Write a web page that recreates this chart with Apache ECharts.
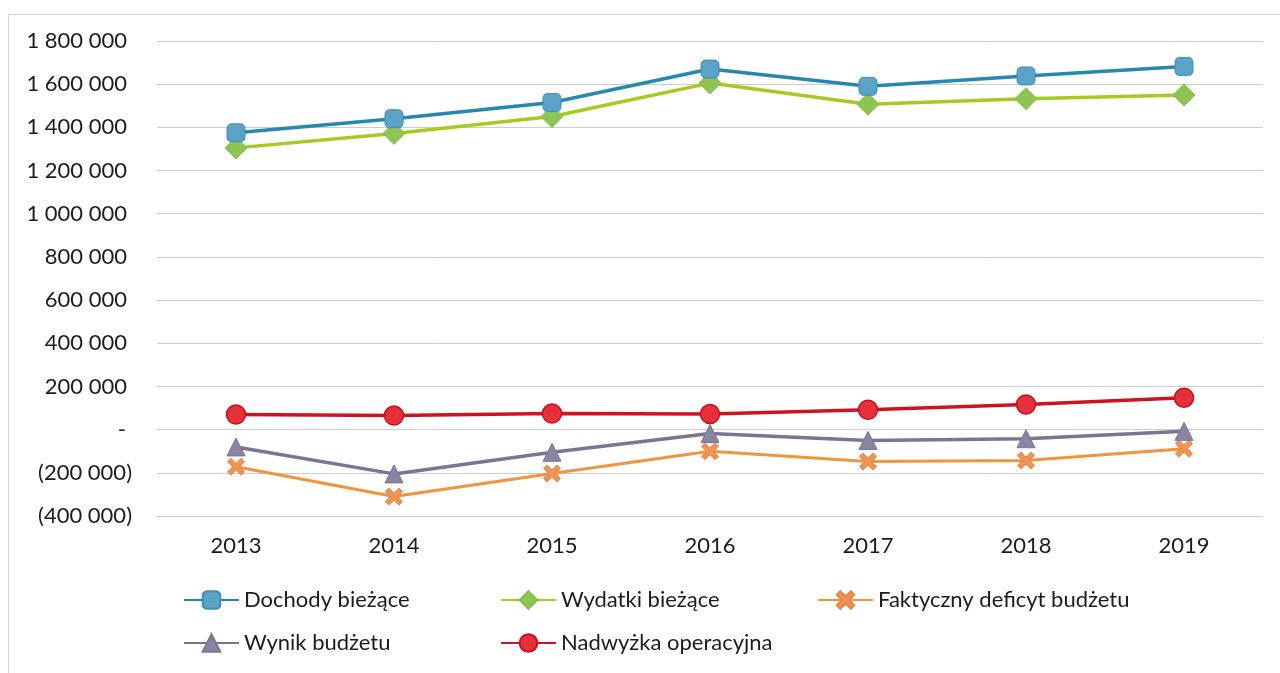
<!DOCTYPE html>
<html>
<head>
<meta charset="utf-8">
<script src="https://cdn.jsdelivr.net/npm/echarts@6/dist/echarts.min.js"></script>
<style>
html,body{margin:0;padding:0;background:#fff;}
#chart{width:1280px;height:673px;}
</style>
</head>
<body>
<div id="chart"></div>
<script>
const years = ['2013','2014','2015','2016','2017','2018','2019'];
const dochody = [1375000, 1440000, 1515000, 1670000, 1590000, 1638000, 1682000];
const wydatki = [1305000, 1372000, 1450000, 1605000, 1507000, 1533000, 1550000];
const deficyt = [-172000, -310000, -203000, -100000, -148000, -143000, -88000];
const wynik = [-80000, -205000, -105000, -18000, -50000, -42000, -8000];
const nadwyzka = [70000, 65000, 75000, 72000, 92000, 116000, 148000];
const seriesNames = ['Dochody bieżące','Wydatki bieżące','Faktyczny deficyt budżetu','Wynik budżetu','Nadwyżka operacyjna'];

const FONT = 'Lato';
const TXT = '#1c1c1c';
function fmtNum(v){
  return String(Math.abs(v)).replace(/\B(?=(\d{3})+(?!\d))/g,' ');
}
const xPath = 'path://M2,0 L5,3 L8,0 L10,2 L7,5 L10,8 L8,10 L5,7 L2,10 L0,8 L3,5 L0,2 Z';

const chart = echarts.init(document.getElementById('chart'));
function legendAt(name, left, top){
  return {
    data:[name], left:left, top:top, orient:'horizontal', padding:0,
    itemWidth:55, itemHeight:22, itemGap:0,
    textStyle:{fontFamily:FONT, fontSize:22, color:TXT},
    selectedMode:false
  };
}
const option = {
  backgroundColor:'#fff',
  animation:false,
  graphic:[{
    type:'rect', shape:{x:8.5, y:14.5, width:1400, height:800},
    style:{fill:'none', stroke:'#d4d4d4', lineWidth:1}, silent:true, z:-10
  }],
  grid:{left:157, right:17, top:41, bottom:157, containLabel:false},
  legend:[
    legendAt(seriesNames[0], 183, 589),
    legendAt(seriesNames[1], 500, 589),
    legendAt(seriesNames[2], 817, 589),
    legendAt(seriesNames[3], 183, 632),
    legendAt(seriesNames[4], 500, 632)
  ],
  xAxis:{
    type:'category', data:years, boundaryGap:true,
    axisLine:{show:false}, axisTick:{show:false},
    axisLabel:{fontFamily:FONT, fontSize:22, color:TXT, margin:19},
    splitLine:{show:false}
  },
  yAxis:{
    type:'value', min:-400000, max:1800000, interval:200000,
    axisLine:{show:false}, axisTick:{show:false},
    splitLine:{lineStyle:{color:'#cccccc', width:1}},
    axisLabel:{
      margin:25, align:'right',
      formatter:function(v){
        if (v === 0) return '{a|-}{d|}';
        if (v < 0) return '{a|(' + fmtNum(v) + ')}';
        return '{a|' + fmtNum(v) + '}{p|}';
      },
      rich:{
        a:{fontFamily:FONT, fontSize:22, color:TXT},
        p:{width:5},
        d:{width:6}
      }
    }
  },
  series:[
    {name:seriesNames[0], type:'line', data:dochody, symbol:'roundRect', symbolSize:18,
     lineStyle:{color:'#2687B0', width:3.5}, itemStyle:{color:'#5AA2C6', borderColor:'#3F8DB5', borderWidth:1}, z:5},
    {name:seriesNames[1], type:'line', data:wydatki, symbol:'diamond', symbolSize:[22,22],
     lineStyle:{color:'#A5CB1E', width:3.5}, itemStyle:{color:'#8DC453', borderColor:'#86BE4B', borderWidth:1}, z:4},
    {name:seriesNames[2], type:'line', data:deficyt, symbol:xPath, symbolSize:17,
     lineStyle:{color:'#F2943A', width:3}, itemStyle:{color:'#EF9452', borderColor:'#E8844A', borderWidth:1}, z:3},
    {name:seriesNames[3], type:'line', data:wynik, symbol:'triangle', symbolSize:[18,18],
     lineStyle:{color:'#7D7394', width:3.5}, itemStyle:{color:'#8B83A3', borderColor:'#7D7496', borderWidth:1}, z:3},
    {name:seriesNames[4], type:'line', data:nadwyzka, symbol:'circle', symbolSize:19,
     lineStyle:{color:'#D0121F', width:3.5}, itemStyle:{color:'#E5313C', borderColor:'#C8101C', borderWidth:1.5}, z:3}
  ]
};
chart.setOption(option);
</script>
</body>
</html>
